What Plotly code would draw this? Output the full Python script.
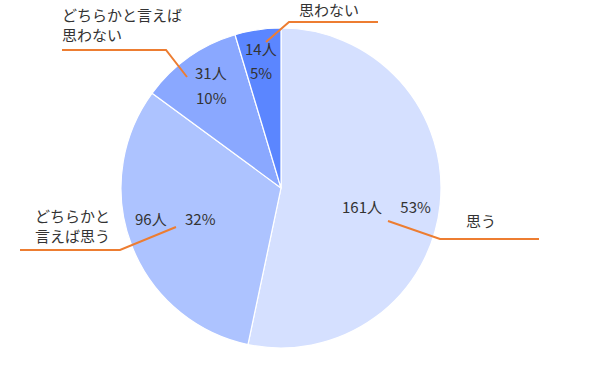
import plotly.graph_objects as go

categories = ["思う", "どちらかと言えば思う", "どちらかと言えば思わない", "思わない"]
counts = [161, 96, 31, 14]
outside_labels = ["思う", "どちらかと<br>言えば思う", "どちらかと言えば<br>思わない", "思わない"]
colors = ["#d5e0ff", "#adc3ff", "#8aa8ff", "#5b86ff"]

W, H = 600, 370
cx, cy, r = 281, 188, 160

total = sum(counts)
pcts = [round(c * 100 / total) for c in counts]

fig = go.Figure(go.Pie(
    labels=categories,
    values=counts,
    sort=False,
    direction="clockwise",
    rotation=0,
    marker=dict(colors=colors, line=dict(color="white", width=1.2)),
    textinfo="none",
    hoverinfo="label+value+percent",
    showlegend=False,
    domain=dict(x=[(cx - r) / W, (cx + r) / W], y=[(H - cy - r) / H, (H - cy + r) / H]),
))

FONT = "Noto Sans CJK JP"
TXT = "#333333"
ORANGE = "#ed7d31"

def px(x):
    return x / W

def py(y):
    return 1 - y / H

annotations = []

def add_text(x, y, t, anchor="center", size=15):
    annotations.append(dict(
        x=px(x), y=py(y), xref="paper", yref="paper",
        text=t, showarrow=False,
        font=dict(family=FONT, size=size, color=TXT),
        xanchor=anchor, yanchor="middle", align="left",
    ))

# inside labels: (x, y, line gap or None for single line)
inside_pos = [(386, 207, None), (175, 219, None), (211, 72, 25), (261, 48, 24)]
for (x, y, gap), n, p in zip(inside_pos, counts, pcts):
    if gap is None:
        add_text(x, y, f"{n}人　 {p}%")
    else:
        add_text(x, y, f"{n}人")
        add_text(x, y + gap, f"{p}%")

# outside labels: block centre position (pixels), anchor
outside_pos = [(481, 220, "center"), (33, 225, "left"), (60, 24, "left"), (329, 10, "center")]
for (x, y, anc), t in zip(outside_pos, outside_labels):
    add_text(x, y, t, anchor=anc)

# leader lines (pixel polylines)
leaders = [
    [(388, 221), (440, 239), (539, 239)],
    [(176, 227), (120, 250), (20, 250)],
    [(187, 77), (166, 50), (62, 50)],
    [(266, 42), (289, 22), (378, 22)],
]
shapes = []
for pts in leaders:
    path = "M " + " L ".join(f"{px(x)},{py(y)}" for x, y in pts)
    shapes.append(dict(type="path", xref="paper", yref="paper", path=path,
                       line=dict(color=ORANGE, width=2)))

fig.update_layout(
    width=W, height=H,
    margin=dict(l=0, r=0, t=0, b=0),
    paper_bgcolor="white", plot_bgcolor="white",
    annotations=annotations,
    shapes=shapes,
    font=dict(family=FONT),
)

fig.write_html("out.html")
